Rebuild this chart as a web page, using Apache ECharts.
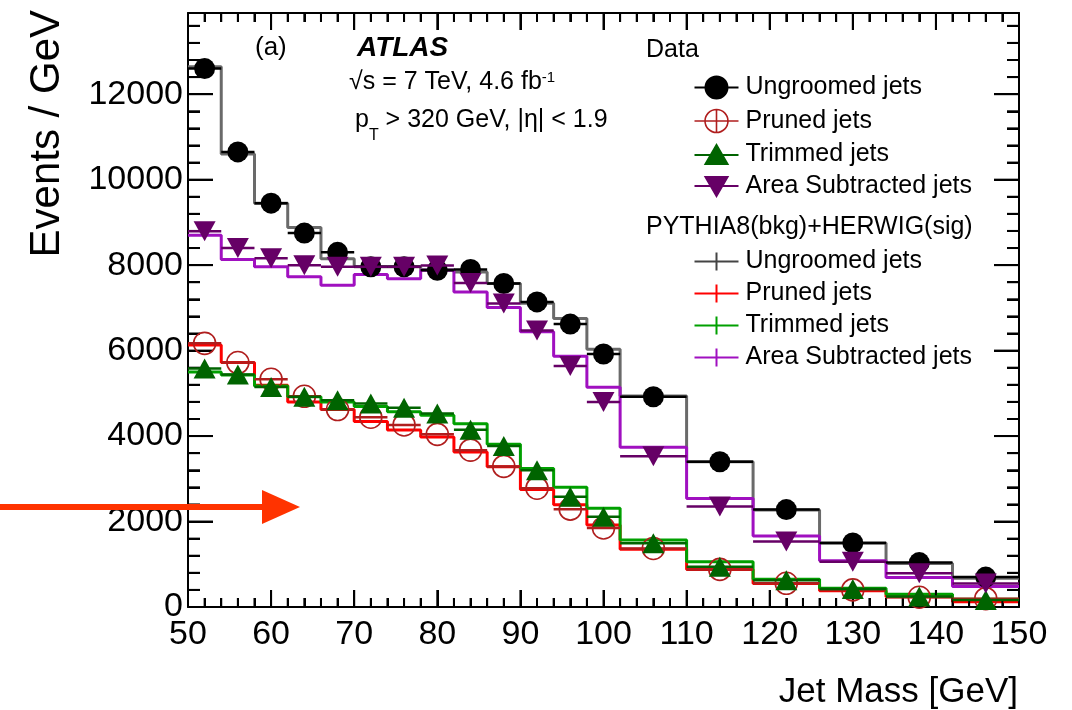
<!DOCTYPE html>
<html><head><meta charset="utf-8">
<script src="https://cdn.jsdelivr.net/npm/echarts@6/dist/echarts.min.js"></script>
<style>html,body{margin:0;padding:0;background:#fff}#c{width:1072px;height:710px}</style>
</head><body><div id="c"></div>
<script>
// ---- data ----
const binEdges = [50,54,58,62,66,70,74,78,82,86,90,94,98,102,110,118,126,134,142,150];
const dataUngroomed = [12600,10650,9450,8750,8300,7960,7960,7880,7900,7570,7140,6620,5920,4920,3400,2280,1500,1040,700];
const dataPruned    = [6170,5720,5330,4930,4620,4440,4260,4040,3670,3290,2780,2290,1850,1370,880,555,400,228,195];
const dataTrimmed   = [5580,5440,5150,4920,4840,4760,4660,4530,4150,3770,3200,2580,2110,1490,940,625,420,245,165];
const dataArea      = [8790,8400,8160,8000,7960,7960,7960,7990,7580,7100,6470,5640,4800,3530,2350,1530,1060,790,550];
const mcUngroomed   = [12640,10600,9450,8880,8150,7960,7960,7900,7840,7570,7110,6750,6030,4940,3400,2270,1500,1020,670];
const mcPruned      = [6130,5720,5190,4800,4620,4340,4140,3980,3630,3280,2750,2390,1920,1350,880,550,380,240,125];
const mcTrimmed     = [5500,5430,5170,4920,4800,4690,4570,4490,4290,3810,3240,2800,2310,1570,1060,650,440,300,180];
const mcArea        = [8700,8130,7960,7730,7530,7780,7680,7880,7370,7010,6440,5870,5140,3740,2540,1660,1080,690,480];
const entryLabels = ['Ungroomed jets','Pruned jets','Trimmed jets','Area Subtracted jets'];
const dataHeader = 'Data';
const mcHeader = 'PYTHIA8(bkg)+HERWIG(sig)';
const xRange = [50, 150], xStep = 10;
const yRange = [0, 13900], yStep = 2000, yMinorStep = 400;
const xTickValues = [50,60,70,80,90,100,110,120,130,140,150];
const yTickValues = [0,2000,4000,6000,8000,10000,12000];
const xMinorPerMajor = 5, yMinorPerMajor = 5;
const xTitle = 'Jet Mass [GeV]';
const yTitle = 'Events / GeV';

// ---- styles ----
const FONT = '"Liberation Sans", Arial, Helvetica, sans-serif';
const dataColors = ['#000000', '#b01e1e', '#006400', '#660066'];
const mcColors = ['#6a6a6a', '#ff0000', '#00a000', '#a010c0'];
const mcLegendColors = ['#444444', '#ff0000', '#00a000', '#a010c0'];
const markerKinds = ['circle', 'openCircle', 'triUp', 'triDown'];
const TICK_W = 2;

function stepData(vals) {
  const d = vals.map((v, i) => [binEdges[i], v]);
  d.push([binEdges[binEdges.length - 1], vals[vals.length - 1]]);
  return d;
}
function pointData(vals) {
  return vals.map((v, i) => [binEdges[i], binEdges[i + 1], (binEdges[i] + binEdges[i + 1]) / 2, v]);
}

// tick-mark list: [x, y, length, kind]; kind 0 = x tick, 1 = y tick
const tickList = [];
xTickValues.forEach((v, i) => {
  tickList.push([v, yRange[0], 17, 0]);
  if (i < xTickValues.length - 1) {
    const d = (xTickValues[i + 1] - v) / xMinorPerMajor;
    for (let k = 1; k < xMinorPerMajor; k++) tickList.push([v + k * d, yRange[0], 9, 0]);
  }
});
yTickValues.forEach((v) => {
  tickList.push([xRange[0], v, 25, 1]);
  const d = yStep / yMinorPerMajor;
  for (let k = 1; k < yMinorPerMajor; k++) {
    const m = v + k * d;
    if (m < yRange[1]) tickList.push([xRange[0], m, 12, 1]);
  }
});
// tick marks inside the frame on all four sides, placed with the axes' scales (api.coord)
function tickShapes(api) {
  const out = [];
  const st = { fill: '#000' };
  const h = TICK_W / 2;
  tickList.forEach(([x, y, len, kind]) => {
    if (kind === 0) {
      const b = api.coord([x, yRange[0]]), t = api.coord([x, yRange[1]]);
      out.push({ type: 'rect', shape: { x: b[0] - h, y: b[1] - len, width: TICK_W, height: len }, style: st, z2: 50 });
      out.push({ type: 'rect', shape: { x: t[0] - h, y: t[1], width: TICK_W, height: len }, style: st, z2: 50 });
    } else {
      const l = api.coord([xRange[0], y]), r = api.coord([xRange[1], y]);
      out.push({ type: 'rect', shape: { x: l[0], y: l[1] - h, width: len, height: TICK_W }, style: st, z2: 50 });
      out.push({ type: 'rect', shape: { x: r[0] - len, y: r[1] - h, width: len, height: TICK_W }, style: st, z2: 50 });
    }
  });
  return out;
}

function makeRender(kind, color, withTicks) {
  return function (params, api) {
    const v = api.value(3);
    const lo = api.coord([api.value(0), v]);
    const hi = api.coord([api.value(1), v]);
    const c = api.coord([api.value(2), v]);
    const ch = [{ type: 'line', shape: { x1: lo[0], y1: lo[1], x2: hi[0], y2: hi[1] },
                  style: { stroke: color, lineWidth: 2.5 } }];
    const cx = c[0], cy = c[1];
    if (kind === 'circle') {
      ch.push({ type: 'circle', shape: { cx, cy, r: 10.5 }, style: { fill: color } });
    } else if (kind === 'openCircle') {
      ch.push({ type: 'circle', shape: { cx, cy, r: 11 }, style: { fill: 'none', stroke: color, lineWidth: 1.6 } });
    } else if (kind === 'triUp') {
      ch.push({ type: 'polygon', shape: { points: [[cx, cy - 10], [cx + 11, cy + 10], [cx - 11, cy + 10]] }, style: { fill: color } });
    } else {
      ch.push({ type: 'polygon', shape: { points: [[cx - 11, cy - 10], [cx + 11, cy - 10], [cx, cy + 10]] }, style: { fill: color } });
    }
    if (withTicks && params.dataIndex === 0) tickShapes(api).forEach(s => ch.push(s));
    return { type: 'group', children: ch };
  };
}

const mcSets = [mcUngroomed, mcPruned, mcTrimmed, mcArea];
const dataSets = [dataUngroomed, dataPruned, dataTrimmed, dataArea];
const series = [];
mcSets.forEach((vals, i) => {
  series.push({
    name: 'MC: ' + entryLabels[i], type: 'line', step: 'end', symbol: 'none',
    data: stepData(vals), lineStyle: { color: mcColors[i], width: 3 }, itemStyle: { color: mcColors[i] },
    xAxisIndex: 0, yAxisIndex: 0, z: 2, silent: true
  });
});
dataSets.forEach((vals, i) => {
  series.push({
    name: 'Data: ' + entryLabels[i], type: 'custom', renderItem: makeRender(markerKinds[i], dataColors[i], i === 0),
    data: pointData(vals), encode: { x: [0, 1, 2], y: 3 }, itemStyle: { color: dataColors[i] },
    xAxisIndex: 0, yAxisIndex: 0, z: 3 + i, silent: true, clip: false
  });
});

const dataIcons = [
  'path://M0,12L44,12M11,12A11,11 0 1,0 33,12A11,11 0 1,0 11,12Z',
  'path://M0,12L44,12M22,0.5L22,23.5M10.5,12A11.5,11.5 0 1,0 33.5,12A11.5,11.5 0 1,0 10.5,12Z',
  'path://M0,12L44,12M22,2L33,21L11,21Z',
  'path://M0,12L44,12M11,3L33,3L22,22Z'
];
const mcIcon = 'path://M0,12L44,12M22,3L22,21';
const legendText = { fontSize: 25, fontFamily: FONT, color: '#000', padding: [0, 0, 0, 2] };
const stripPrefix = n => n.replace(/^(Data|MC): /, '');

const axisBlack = { color: '#000', width: 2 };
const plainNum = v => String(v);
const tickLine = { color: '#000', width: 2 };

const option = {
  animation: false,
  backgroundColor: '#fff',
  grid: { left: 188, right: 53, top: 13, bottom: 103, containLabel: false },
  xAxis: [
    { type: 'value', min: xRange[0], max: xRange[1], interval: xStep, position: 'bottom',
      axisLine: { show: true, lineStyle: axisBlack, onZero: false },
      axisTick: { show: true, inside: true, length: 17, lineStyle: tickLine },
      minorTick: { show: true, splitNumber: xMinorPerMajor, length: 9, lineStyle: tickLine },
      axisLabel: { fontSize: 34, fontFamily: FONT, color: '#000', margin: 11, formatter: plainNum },
      splitLine: { show: false } },
    { type: 'value', min: xRange[0], max: xRange[1], interval: xStep, position: 'top',
      axisLine: { show: true, lineStyle: axisBlack, onZero: false },
      axisTick: { show: true, inside: true, length: 17, lineStyle: tickLine },
      minorTick: { show: true, splitNumber: xMinorPerMajor, length: 9, lineStyle: tickLine },
      axisLabel: { show: false }, splitLine: { show: false } }
  ],
  yAxis: [
    { type: 'value', min: yRange[0], max: yRange[1], interval: yStep, position: 'left',
      axisLine: { show: true, lineStyle: axisBlack, onZero: false },
      axisTick: { show: true, inside: true, length: 25, lineStyle: tickLine },
      axisLabel: { fontSize: 34, fontFamily: FONT, color: '#000', margin: 5, showMaxLabel: false, formatter: plainNum },
      splitLine: { show: false } },
    { type: 'value', min: yRange[0], max: yRange[1], interval: yStep, position: 'right',
      axisLine: { show: true, lineStyle: axisBlack, onZero: false },
      axisTick: { show: true, inside: true, length: 25, lineStyle: tickLine },
      axisLabel: { show: false }, splitLine: { show: false } },
    { type: 'value', min: yRange[0], max: yRange[1], interval: yMinorStep, position: 'left',
      axisLine: { show: false }, axisTick: { show: true, inside: true, length: 12, lineStyle: tickLine },
      axisLabel: { show: false }, splitLine: { show: false } },
    { type: 'value', min: yRange[0], max: yRange[1], interval: yMinorStep, position: 'right',
      axisLine: { show: false }, axisTick: { show: true, inside: true, length: 12, lineStyle: tickLine },
      axisLabel: { show: false }, splitLine: { show: false } }
  ],
  legend: [
    { orient: 'vertical', left: 692, top: 75, padding: 0, itemGap: 7, itemWidth: 44, itemHeight: 24,
      textStyle: legendText, formatter: stripPrefix, selectedMode: false,
      data: entryLabels.map((l, i) => ({
        name: 'Data: ' + l, icon: dataIcons[i],
        itemStyle: i === 1
          ? { color: 'none', borderColor: dataColors[i], borderWidth: 1.6, opacity: 1 }
          : { color: dataColors[i], borderColor: dataColors[i], borderWidth: 2, opacity: 1 }
      })) },
    { orient: 'vertical', left: 692, top: 249, padding: 0, itemGap: 7, itemWidth: 44, itemHeight: 24,
      textStyle: legendText, formatter: stripPrefix, selectedMode: false,
      data: entryLabels.map((l, i) => ({
        name: 'MC: ' + l, icon: mcIcon,
        itemStyle: { color: 'none', borderColor: mcLegendColors[i], borderWidth: 2, opacity: 1 }
      })) }
  ],
  graphic: [
    { type: 'text', x: 646, y: 50, style: { text: dataHeader, fontSize: 25, fontFamily: FONT, fill: '#000', align: 'left', verticalAlign: 'middle' } },
    { type: 'text', x: 646, y: 227, style: { text: mcHeader, fontSize: 25, fontFamily: FONT, fill: '#000', align: 'left', verticalAlign: 'middle' } },
    { type: 'text', x: 255, y: 48, style: { text: '(a)', fontSize: 26, fontFamily: FONT, fill: '#000', align: 'left', verticalAlign: 'middle' } },
    { type: 'text', x: 357, y: 48, style: { text: 'ATLAS', fontSize: 28, fontWeight: 'bold', fontStyle: 'italic', fontFamily: FONT, fill: '#000', align: 'left', verticalAlign: 'middle' } },
    { type: 'text', x: 349, y: 70, style: {
        text: '{n|√s = 7 TeV, 4.6 fb}{s|-1}', align: 'left', verticalAlign: 'top',
        rich: { n: { fontSize: 25, fontFamily: FONT, color: '#000', lineHeight: 36, verticalAlign: 'top' },
                s: { fontSize: 15, fontFamily: FONT, color: '#000', verticalAlign: 'top' } } } },
    { type: 'text', x: 355, y: 107.5, style: {
        text: '{n|p}{b|T}{n| > 320 GeV, |η| < 1.9}', align: 'left', verticalAlign: 'top',
        rich: { n: { fontSize: 25, fontFamily: FONT, color: '#000', lineHeight: 36, verticalAlign: 'top' },
                b: { fontSize: 16, fontFamily: FONT, color: '#000', verticalAlign: 'bottom' } } } },
    { type: 'text', x: 47, y: 10, rotation: Math.PI / 2, style: { text: yTitle, fontSize: 42, fontFamily: FONT, fill: '#000', align: 'right', verticalAlign: 'middle' } },
    { type: 'text', x: 1018, y: 692, style: { text: xTitle, fontSize: 35, fontFamily: FONT, fill: '#000', align: 'right', verticalAlign: 'middle' } },
    { type: 'line', shape: { x1: 0, y1: 507, x2: 266, y2: 507 }, style: { stroke: '#ff3300', lineWidth: 6 }, z: 100 },
    { type: 'polygon', shape: { points: [[262, 490], [300, 507], [262, 524]] }, style: { fill: '#ff3300' }, z: 100 }
  ],
  series: series
};
const chart = echarts.init(document.getElementById('c'), null, { renderer: 'canvas' });
chart.setOption(option);
</script></body></html>
